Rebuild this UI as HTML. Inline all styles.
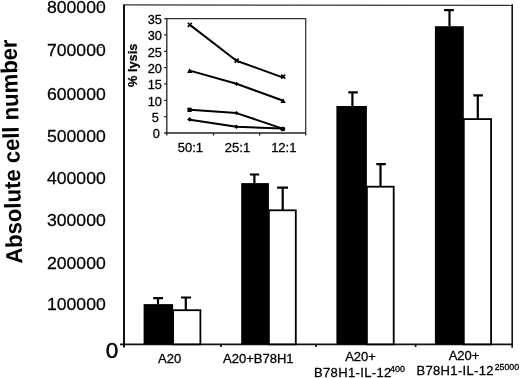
<!DOCTYPE html>
<html><head><meta charset="utf-8">
<style>
html,body{margin:0;padding:0;background:#fff;}
body{width:520px;height:378px;overflow:hidden;position:relative;}
svg{position:absolute;left:0;top:0;will-change:transform;}
text{font-family:"Liberation Sans",sans-serif;fill:#000;}
</style></head>
<body>
<svg width="520" height="378" viewBox="0 0 520 378">
<rect x="0" y="0" width="520" height="378" fill="#fff"/>
<!-- y axis title -->
<text transform="translate(22.3,263.6) rotate(-91.5) scale(0.96,1)" font-size="23" font-weight="bold">Absolute cell number</text>
<!-- y tick labels -->
<g font-size="17.3" text-anchor="end" stroke="#000" stroke-width="0.25">
<text transform="translate(105.8,12.9) scale(1.02,1)">800000</text>
<text transform="translate(105.8,55.8) scale(1.02,1)">700000</text>
<text transform="translate(105.8,99.6) scale(1.02,1)">600000</text>
<text transform="translate(105.8,141.6) scale(1.02,1)">500000</text>
<text transform="translate(105.8,183.9) scale(1.02,1)">400000</text>
<text transform="translate(105.8,225.6) scale(1.02,1)">300000</text>
<text transform="translate(105.8,268.8) scale(1.02,1)">200000</text>
<text transform="translate(105.8,310.4) scale(1.02,1)">100000</text>
</g>
<text x="118.2" y="357.8" font-size="22.5" text-anchor="end" stroke="#000" stroke-width="0.45">0</text>
<path d="M99.6 300.9H102.2M99.6 258.6H102.2M99.6 216.4H102.2M99.6 174.1H102.2M99.6 131.9H102.2M99.6 89.6H102.2M99.6 47.4H102.2M99.6 5.1H102.2" stroke="#555" stroke-width="1" fill="none"/>
<!-- main box -->
<g stroke="#111" fill="none">
<line x1="124" y1="4.5" x2="124" y2="347.5" stroke-width="2"/>
<line x1="120" y1="344.3" x2="513" y2="344.3" stroke-width="1.7"/>
<line x1="123" y1="4.9" x2="513" y2="5.3" stroke-width="1.3" stroke="#333"/>
<line x1="512.2" y1="4.3" x2="512.2" y2="347.7" stroke-width="1.6"/>
<line x1="221" y1="344" x2="221" y2="347" stroke-width="1.7"/>
<line x1="316" y1="344" x2="316" y2="347" stroke-width="1.7"/>
<line x1="415.6" y1="344" x2="415.6" y2="347" stroke-width="1.7"/>
</g>
<!-- bars -->
<g fill="#000">
<rect x="143.6" y="304.1" width="29.5" height="40.2"/>
<rect x="241.2" y="183.1" width="27.7" height="161.2"/>
<rect x="336.4" y="106" width="30.5" height="238.3"/>
<rect x="434.9" y="26.2" width="28.9" height="318.1"/>
</g>
<g fill="#fff" stroke="#000" stroke-width="1.8">
<rect x="173.1" y="310.2" width="27.3" height="34.1"/>
<rect x="268.9" y="210.3" width="26.9" height="134"/>
<rect x="366.9" y="186.7" width="26.8" height="157.6"/>
<rect x="463.8" y="119.1" width="27.3" height="225.2"/>
</g>
<!-- error bars -->
<g stroke="#000" stroke-width="2.2" fill="none">
<path d="M158 304V298.1M153.2 298.1H163"/>
<path d="M185.8 310V297.5M181 297.5H191"/>
<path d="M254.4 183V174.5M249.9 174.5H259.2"/>
<path d="M282.7 210V187.6M277.1 187.6H288"/>
<path d="M352.4 106V92.4M348.3 92.4H357.8"/>
<path d="M380.5 186V164.1M376.3 164.1H385.8"/>
<path d="M449.5 26V10.1M444.1 10.1H453.9"/>
<path d="M477.8 119V95.4M473.3 95.4H482.9"/>
</g>
<!-- x labels -->
<g font-size="13" text-anchor="middle" stroke="#000" stroke-width="0.3">
<text x="169.6" y="363">A20</text>
<text x="258.3" y="363">A20+B78H1</text>
<text x="360.5" y="361.3">A20+</text>
<text x="464" y="360.3">A20+</text>
</g>
<g font-size="13" stroke="#000" stroke-width="0.3" letter-spacing="0.35">
<text x="314" y="376.7">B78H1-IL-12<tspan font-size="9" dx="-1.5" dy="-4.6" letter-spacing="0">400</tspan></text>
<text x="416.4" y="374.6">B78H1-IL-12<tspan font-size="8.8" x="494.7" dy="-4.4" letter-spacing="0">25000</tspan></text>
</g>
<!-- inset -->
<g stroke="#222" fill="none" stroke-width="1.3">
<path d="M166.8 18.6H305.7V133" stroke="#333" stroke-width="1.25"/>
<path d="M166.8 18.6V135.5"/>
<path d="M164.2 133.1H305.7" stroke-width="1.5"/>
<path d="M164.2 18.6H166.8M164.2 34.9H166.8M164.2 51.3H166.8M164.2 67.6H166.8M164.2 83.9H166.8M164.2 100.3H166.8M164.2 116.6H166.8"/>
<path d="M213.5 133V135.5M259.7 133V135.5M305.7 133V135.5"/>
</g>
<g font-size="12.8" text-anchor="end" stroke="#000" stroke-width="0.3">
<text x="161.9" y="23.9">35</text>
<text x="161.9" y="40.2">30</text>
<text x="161.9" y="56.5">25</text>
<text x="161.9" y="72.9">20</text>
<text x="161.9" y="89.2">15</text>
<text x="161.9" y="105.5">10</text>
<text x="158.9" y="122.0">5</text>
<text x="159.9" y="138.2">0</text>
</g>
<text transform="translate(137.4,87) rotate(-90)" font-size="12.8" font-weight="bold" stroke="#000" stroke-width="0.25">% lysis</text>
<g font-size="13" text-anchor="middle" stroke="#000" stroke-width="0.3">
<text x="190.4" y="152.3">50:1</text>
<text x="237.5" y="152.3">25:1</text>
<text x="283.8" y="152.3">12:1</text>
</g>
<g stroke="#000" stroke-width="2" fill="none" stroke-linejoin="round">
<polyline points="189.6,24.6 236.5,60.7 282.6,77.4"/>
<polyline points="189.8,70.6 236.5,83.8 282.6,100.5"/>
<polyline points="190,109.8 236.5,113.1 282.6,128.6"/>
<polyline points="190,119.7 236.5,126.7 282.6,128.6"/>
</g>
<!-- markers -->
<g stroke="#000" stroke-width="1.6">
<path d="M187.8 22.8L191.9 26.9M191.9 22.8L187.8 26.9"/>
<path d="M234.6 58.6L238.6 62.6M238.6 58.6L234.6 62.6"/>
<path d="M281.2 74.6L285.2 78.6M285.2 74.6L281.2 78.6"/>
</g>
<g fill="#000">
<path d="M189.7 68.3L192.3 73.1H187.1Z"/>
<path d="M236.5 81.7L238.6 83.9L236.5 86L234.4 83.9Z"/>
<path d="M283.1 98.2L285.8 103.1H280.4Z"/>
<rect x="187.4" y="107.7" width="4.3" height="4.3"/>
<path d="M236.5 110.9L238.7 113.1L236.5 115.3L234.3 113.1Z"/>
<path d="M189.6 117L192 119.4L189.6 121.8L187.2 119.4Z"/>
<path d="M236.5 124.5L238.7 126.7L236.5 128.9L234.3 126.7Z"/>
<ellipse cx="282.8" cy="129" rx="2.6" ry="2.2"/>
<path d="M282.8 126.6L285.2 129L282.8 131.4L280.4 129Z"/>
</g>
</svg>
</body></html>
